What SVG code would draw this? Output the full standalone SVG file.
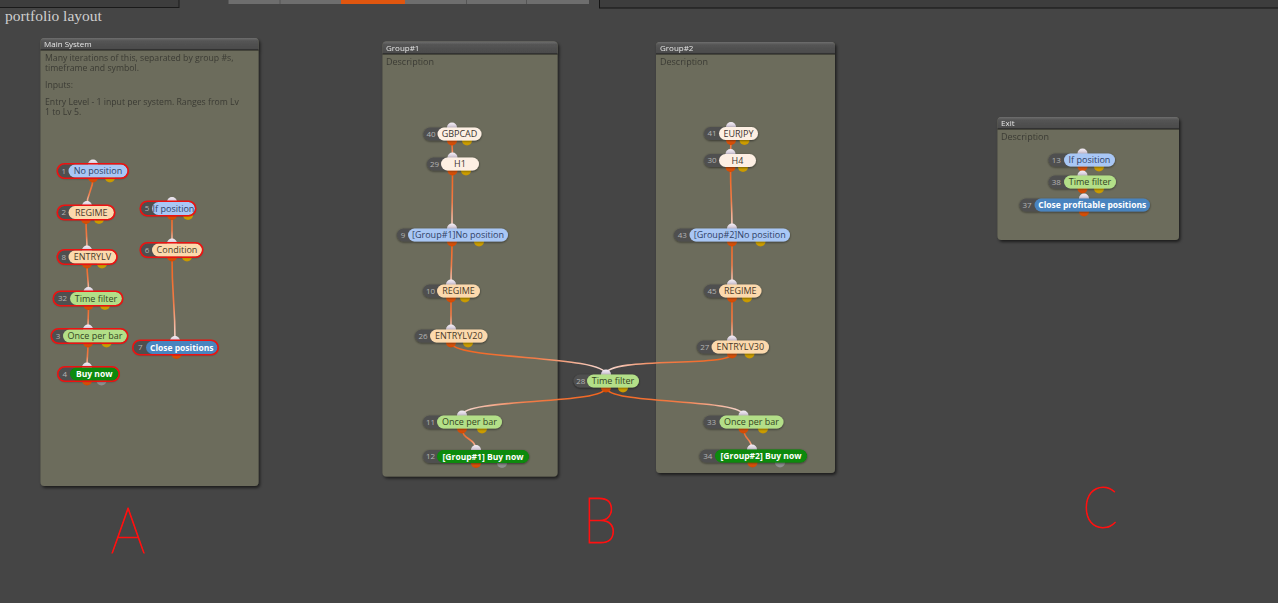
<svg xmlns="http://www.w3.org/2000/svg" width="1278" height="603" viewBox="0 0 1278 603">
<defs>
<style>
.ptitle{font-family:"Open Sans","Liberation Sans",sans-serif;font-size:8px;fill:#e6e6e6}
.desc{font-family:"Open Sans","Liberation Sans",sans-serif;font-size:9px;fill:#3b3b35}
.mdesc{font-family:"Open Sans","Liberation Sans",sans-serif;font-size:8.7px;fill:#3b3b35}
.lbl{font-family:"Open Sans","Liberation Sans",sans-serif;font-size:9px;text-anchor:middle}
.lblb{font-family:"Open Sans","Liberation Sans",sans-serif;font-size:8.5px;font-weight:bold;text-anchor:middle;fill:#ffffff}
.num{font-family:"Open Sans","Liberation Sans",sans-serif;font-size:8px;text-anchor:middle;fill:#b4b4b4}
.panel{fill:#6c6c5b}
.phdr{fill:url(#hdr)}
.pline{stroke:#1c1c1c;stroke-width:1}
.idp{fill:#4f4f4f}
.blue{fill:#a9c7f5}.tblue{fill:#2f3f66}
.peach{fill:#fcd9ad}.tpeach{fill:#4a3a28}
.green{fill:#b3df88}.tgreen{fill:#34451f}
.cream{fill:#fdefe3}.tcream{fill:#3a3330}
.dgreen{fill:#088a08}
.dblue{fill:#4a84bf}
.inp{fill:url(#gIn)}
.outo{fill:url(#gOr)}
.outy{fill:url(#gYe)}
.outg{fill:#8e8e8e}
.sel{fill:none;stroke:#ee1111;stroke-width:1.6}
.conn{fill:none;stroke-width:1.6}
.hand{font-family:Lato,"Noto Sans",sans-serif;font-weight:100;fill:#ff1010;stroke:#ff1010;stroke-width:1}
</style>
<linearGradient id="hdr" x1="0" y1="0" x2="0" y2="1">
<stop offset="0" stop-color="#6e6e6e"/><stop offset="0.25" stop-color="#545454"/><stop offset="1" stop-color="#4a4a4a"/>
</linearGradient>
<linearGradient id="gIn" x1="0" y1="0" x2="0" y2="1">
<stop offset="0" stop-color="#f4eef6"/><stop offset="1" stop-color="#a596ae"/>
</linearGradient>
<linearGradient id="gOr" x1="0" y1="0" x2="0" y2="1">
<stop offset="0" stop-color="#ff7624"/><stop offset="1" stop-color="#cf4600"/>
</linearGradient>
<linearGradient id="gYe" x1="0" y1="0" x2="0" y2="1">
<stop offset="0" stop-color="#f5c800"/><stop offset="1" stop-color="#c49400"/>
</linearGradient>
<linearGradient id="cg">
<stop offset="0" stop-color="#f3631a"/><stop offset="0.55" stop-color="#f17c48"/><stop offset="1" stop-color="#f7dcd6"/>
</linearGradient>
<linearGradient id="g1" href="#cg" gradientUnits="userSpaceOnUse" x1="93" y1="177.5" x2="87" y2="206"/>
<linearGradient id="g2" href="#cg" gradientUnits="userSpaceOnUse" x1="86" y1="219" x2="87" y2="250.5"/>
<linearGradient id="g3" href="#cg" gradientUnits="userSpaceOnUse" x1="87" y1="263.5" x2="88.5" y2="292"/>
<linearGradient id="g4" href="#cg" gradientUnits="userSpaceOnUse" x1="88.5" y1="305" x2="88" y2="329.5"/>
<linearGradient id="g5" href="#cg" gradientUnits="userSpaceOnUse" x1="88" y1="342.5" x2="87" y2="367.5"/>
<linearGradient id="g6" href="#cg" gradientUnits="userSpaceOnUse" x1="172" y1="215" x2="172" y2="243.5"/>
<linearGradient id="g7" href="#cg" gradientUnits="userSpaceOnUse" x1="172" y1="256.5" x2="175" y2="341"/>
<linearGradient id="g8" href="#cg" gradientUnits="userSpaceOnUse" x1="452" y1="140.5" x2="452.5" y2="157.5"/>
<linearGradient id="g9" href="#cg" gradientUnits="userSpaceOnUse" x1="452.5" y1="170.5" x2="452" y2="228.5"/>
<linearGradient id="g10" href="#cg" gradientUnits="userSpaceOnUse" x1="452" y1="241.5" x2="451" y2="284.5"/>
<linearGradient id="g11" href="#cg" gradientUnits="userSpaceOnUse" x1="451" y1="297.5" x2="451" y2="329.5"/>
<linearGradient id="g12" href="#cg" gradientUnits="userSpaceOnUse" x1="451" y1="342.5" x2="606" y2="374.5"/>
<linearGradient id="g13" href="#cg" gradientUnits="userSpaceOnUse" x1="732" y1="353.5" x2="606" y2="374.5"/>
<linearGradient id="g14" href="#cg" gradientUnits="userSpaceOnUse" x1="606" y1="387.5" x2="462" y2="415.5"/>
<linearGradient id="g15" href="#cg" gradientUnits="userSpaceOnUse" x1="606" y1="387.5" x2="743.5" y2="415.5"/>
<linearGradient id="g16" href="#cg" gradientUnits="userSpaceOnUse" x1="462" y1="428.5" x2="476" y2="450"/>
<linearGradient id="g17" href="#cg" gradientUnits="userSpaceOnUse" x1="743.5" y1="428.5" x2="752" y2="449.5"/>
<linearGradient id="g18" href="#cg" gradientUnits="userSpaceOnUse" x1="731" y1="140" x2="730.5" y2="154"/>
<linearGradient id="g19" href="#cg" gradientUnits="userSpaceOnUse" x1="730.5" y1="167" x2="732" y2="228.5"/>
<linearGradient id="g20" href="#cg" gradientUnits="userSpaceOnUse" x1="732" y1="241.5" x2="732" y2="284.5"/>
<linearGradient id="g21" href="#cg" gradientUnits="userSpaceOnUse" x1="732" y1="297.5" x2="732" y2="340.5"/>
<filter id="psh" x="-5%" y="-5%" width="112%" height="112%">
<feDropShadow dx="1.5" dy="2" stdDeviation="1.5" flood-color="#000" flood-opacity="0.6"/>
</filter>
<filter id="ns" x="-10%" y="-40%" width="120%" height="180%">
<feDropShadow dx="0" dy="0.8" stdDeviation="0.9" flood-color="#000" flood-opacity="0.55"/>
</filter>
</defs>

<rect x="0" y="0" width="1278" height="603" fill="#454545"/>

<g id="toolbar">
<rect x="-1" y="-1" width="180" height="8.5" fill="#3d3d3d" stroke="#1a1a1a"/>
<rect x="228.5" y="-1" width="360.5" height="5" fill="#6e6e6e"/>
<rect x="341" y="-1" width="64" height="5" fill="#e0560f"/>
<line x1="280" y1="-1" x2="280" y2="4" stroke="#555"/>
<line x1="466.5" y1="-1" x2="466.5" y2="4" stroke="#555"/>
<line x1="526.5" y1="-1" x2="526.5" y2="4" stroke="#555"/>
<rect x="599.5" y="-1" width="690" height="9" fill="#3d3d3d" stroke="#141414"/>
</g>

<text x="5" y="21" font-family="'Liberation Serif','Times New Roman',serif" font-size="15.5" fill="#cfcfcf">portfolio layout</text>

<g id="panel-main" filter="url(#psh)">
<rect class="panel" x="40.5" y="38" width="218" height="448" rx="4"/>
<path class="phdr" d="M40.5 50 V42 a4 4 0 0 1 4 -4 H254.5 a4 4 0 0 1 4 4 V50 Z"/>
<line class="pline" x1="40.5" y1="50" x2="258.5" y2="50"/>
<text class="ptitle" x="44" y="47.3">Main System</text>
<text class="mdesc" x="45" y="60.8">Many iterations of this, separated by group #s,</text>
<text class="mdesc" x="45" y="70.5">timeframe and symbol.</text>
<text class="mdesc" x="45" y="88">Inputs:</text>
<text class="mdesc" x="45" y="104.8">Entry Level - 1 input per system. Ranges from Lv</text>
<text class="mdesc" x="45" y="114.5">1 to Lv 5.</text>
</g>

<g id="panel-group1" filter="url(#psh)">
<rect class="panel" x="382.5" y="41.5" width="175" height="435" rx="4"/>
<path class="phdr" d="M382.5 54 V45.5 a4 4 0 0 1 4 -4 H553.5 a4 4 0 0 1 4 4 V54 Z"/>
<line class="pline" x1="382.5" y1="54" x2="557.5" y2="54"/>
<text class="ptitle" x="386" y="51">Group#1</text>
<text class="desc" x="386" y="65">Description</text>
</g>

<g id="panel-group2" filter="url(#psh)">
<rect class="panel" x="656" y="42" width="179" height="431" rx="4"/>
<path class="phdr" d="M656 54 V46 a4 4 0 0 1 4 -4 H831 a4 4 0 0 1 4 4 V54 Z"/>
<line class="pline" x1="656" y1="54" x2="835" y2="54"/>
<text class="ptitle" x="660" y="51">Group#2</text>
<text class="desc" x="660" y="65">Description</text>
</g>

<g id="panel-exit" filter="url(#psh)">
<rect class="panel" x="997.5" y="117" width="181.5" height="123" rx="4"/>
<path class="phdr" d="M997.5 129 V121 a4 4 0 0 1 4 -4 H1175 a4 4 0 0 1 4 4 V129 Z"/>
<line class="pline" x1="997.5" y1="129" x2="1179" y2="129"/>
<text class="ptitle" x="1001" y="126.3">Exit</text>
<text class="desc" x="1001" y="140">Description</text>
</g>

<g id="connectors">
<path class="conn" stroke="url(#g1)" d="M93 177.5 C93 192 87 191 87 206"/>
<path class="conn" stroke="url(#g2)" d="M86 219 C86 235 87 235 87 250.5"/>
<path class="conn" stroke="url(#g3)" d="M87 263.5 C87 278 88.5 278 88.5 292"/>
<path class="conn" stroke="url(#g4)" d="M88.5 305 C88.5 317 88 317 88 329.5"/>
<path class="conn" stroke="url(#g5)" d="M88 342.5 C88 355 87 355 87 367.5"/>
<path class="conn" stroke="url(#g6)" d="M172 215 C172 229 172 229 172 243.5"/>
<path class="conn" stroke="url(#g7)" d="M172 256.5 C172 300 175 300 175 341"/>
<path class="conn" stroke="url(#g8)" d="M452 140.5 C452 149 452.5 149 452.5 157.5"/>
<path class="conn" stroke="url(#g9)" d="M452.5 170.5 C452.5 200 452 200 452 228.5"/>
<path class="conn" stroke="url(#g10)" d="M452 241.5 C452 263 451 263 451 284.5"/>
<path class="conn" stroke="url(#g11)" d="M451 297.5 C451 313 451 313 451 329.5"/>
<path class="conn" stroke="url(#g12)" d="M451 342.5 C451 360 606 355 606 374.5"/>
<path class="conn" stroke="url(#g13)" d="M732 353.5 C732 368 606 356 606 374.5"/>
<path class="conn" stroke="url(#g14)" d="M606 387.5 C606 405 462 398 462 415.5"/>
<path class="conn" stroke="url(#g15)" d="M606 387.5 C606 405 743.5 398 743.5 415.5"/>
<path class="conn" stroke="url(#g16)" d="M462 428.5 C462 440 476 438 476 450"/>
<path class="conn" stroke="url(#g17)" d="M743.5 428.5 C743.5 440 752 438 752 449.5"/>
<path class="conn" stroke="url(#g18)" d="M731 140 C731 147 730.5 147 730.5 154"/>
<path class="conn" stroke="url(#g19)" d="M730.5 167 C730.5 198 732 198 732 228.5"/>
<path class="conn" stroke="url(#g20)" d="M732 241.5 C732 263 732 263 732 284.5"/>
<path class="conn" stroke="url(#g21)" d="M732 297.5 C732 319 732 319 732 340.5"/>
</g>

<!-- Main System nodes -->
<g id="n1">
<circle class="inp" cx="93" cy="164.5" r="5"/><circle class="outo" cx="93" cy="177.5" r="5"/><circle class="outy" cx="110" cy="177.5" r="5"/>
<g filter="url(#ns)"><rect class="idp" x="58" y="164.5" width="20.5" height="13" rx="6.5"/><rect class="blue" x="68.5" y="164.5" width="59" height="13" rx="6.5"/></g>
<text class="num" x="63.7" y="173.8">1</text><text class="lbl tblue" x="98" y="174.2">No position</text>
<rect class="sel" x="57.25" y="163.75" width="71" height="14.5" rx="7.25"/>
</g>
<g id="n2">
<circle class="inp" cx="87" cy="206" r="5"/><circle class="outo" cx="86" cy="219" r="5"/><circle class="outy" cx="99" cy="219" r="5"/>
<g filter="url(#ns)"><rect class="idp" x="58" y="206" width="20.5" height="13" rx="6.5"/><rect class="peach" x="68.5" y="206" width="45.5" height="13" rx="6.5"/></g>
<text class="num" x="63.7" y="215.3">2</text><text class="lbl tpeach" x="91.25" y="215.7">REGIME</text>
<rect class="sel" x="57.25" y="205.25" width="57.5" height="14.5" rx="7.25"/>
</g>
<g id="n8">
<circle class="inp" cx="87" cy="250.5" r="5"/><circle class="outo" cx="87" cy="263.5" r="5"/><circle class="outy" cx="102" cy="263.5" r="5"/>
<g filter="url(#ns)"><rect class="idp" x="58" y="250.5" width="20.5" height="13" rx="6.5"/><rect class="peach" x="68.5" y="250.5" width="48" height="13" rx="6.5"/></g>
<text class="num" x="63.7" y="259.8">8</text><text class="lbl tpeach" x="92.5" y="260.2">ENTRYLV</text>
<rect class="sel" x="57.25" y="249.75" width="59.75" height="14.5" rx="7.25"/>
</g>
<g id="n32">
<circle class="inp" cx="88.5" cy="292" r="5"/><circle class="outo" cx="88.5" cy="305" r="5"/><circle class="outy" cx="105" cy="305" r="5"/>
<g filter="url(#ns)"><rect class="idp" x="54" y="292" width="26" height="13" rx="6.5"/><rect class="green" x="70" y="292" width="52" height="13" rx="6.5"/></g>
<text class="num" x="62.5" y="301.3">32</text><text class="lbl tgreen" x="96" y="301.7">Time filter</text>
<rect class="sel" x="53.25" y="291.25" width="69.5" height="14.5" rx="7.25"/>
</g>
<g id="n3">
<circle class="inp" cx="88" cy="329.5" r="5"/><circle class="outo" cx="88" cy="342.5" r="5"/><circle class="outy" cx="106.5" cy="342.5" r="5"/>
<g filter="url(#ns)"><rect class="idp" x="52" y="329.5" width="21" height="13" rx="6.5"/><rect class="green" x="63" y="329.5" width="64" height="13" rx="6.5"/></g>
<text class="num" x="58" y="338.8">3</text><text class="lbl tgreen" x="95" y="339.2">Once per bar</text>
<rect class="sel" x="51.25" y="328.75" width="76.5" height="14.5" rx="7.25"/>
</g>
<g id="n4">
<circle class="inp" cx="87" cy="367.5" r="5"/><circle class="outo" cx="87" cy="380.5" r="5"/><circle class="outg" cx="101.5" cy="380.5" r="5"/>
<g filter="url(#ns)"><rect class="idp" x="58.5" y="367.5" width="21.5" height="13" rx="6.5"/><rect class="dgreen" x="70" y="367.5" width="48.5" height="13" rx="6.5"/></g>
<text class="num" x="64.7" y="376.8">4</text><text class="lblb" x="94.25" y="377">Buy now</text>
<rect class="sel" x="57.75" y="366.75" width="61.5" height="14.5" rx="7.25"/>
</g>
<g id="n5">
<circle class="inp" cx="172" cy="202" r="5"/><circle class="outo" cx="172" cy="215" r="5"/><circle class="outy" cx="188" cy="215" r="5"/>
<g filter="url(#ns)"><rect class="idp" x="141" y="202" width="21" height="13" rx="6.5"/><rect class="blue" x="152" y="202" width="43" height="13" rx="6.5"/></g>
<text class="num" x="147" y="211.3">5</text><text class="lbl tblue" x="173.5" y="211.7">If position</text>
<rect class="sel" x="140.25" y="201.25" width="55.5" height="14.5" rx="7.25"/>
</g>
<g id="n6">
<circle class="inp" cx="172" cy="243.5" r="5"/><circle class="outo" cx="172" cy="256.5" r="5"/><circle class="outy" cx="187" cy="256.5" r="5"/>
<g filter="url(#ns)"><rect class="idp" x="141" y="243.5" width="21" height="13" rx="6.5"/><rect class="peach" x="152" y="243.5" width="50" height="13" rx="6.5"/></g>
<text class="num" x="147" y="252.8">6</text><text class="lbl tpeach" x="177" y="253.2">Condition</text>
<rect class="sel" x="140.25" y="242.75" width="62.5" height="14.5" rx="7.25"/>
</g>
<g id="n7">
<circle class="inp" cx="175" cy="341" r="5"/><circle class="outo" cx="176.5" cy="354" r="5"/>
<g filter="url(#ns)"><rect class="idp" x="133.5" y="341" width="22.5" height="13" rx="6.5"/><rect class="dblue" x="146" y="341" width="71.5" height="13" rx="6.5"/></g>
<text class="num" x="140.2" y="350.3">7</text><text class="lblb" x="181.75" y="350.5">Close positions</text>
<rect class="sel" x="132.75" y="340.25" width="85.5" height="14.5" rx="7.25"/>
</g>

<!-- Group#1 nodes -->
<g id="n40">
<circle class="inp" cx="452" cy="127.5" r="5"/><circle class="outo" cx="452" cy="140.5" r="5"/><circle class="outy" cx="467" cy="140.5" r="5"/>
<g filter="url(#ns)"><rect class="idp" x="423.5" y="127.5" width="24" height="13" rx="6.5"/><rect class="cream" x="437.5" y="127.5" width="44" height="13" rx="6.5"/></g>
<text class="num" x="431" y="136.8">40</text><text class="lbl tcream" x="459.5" y="137.2">GBPCAD</text>
</g>
<g id="n29">
<circle class="inp" cx="452.5" cy="157.5" r="5"/><circle class="outo" cx="452.5" cy="170.5" r="5"/><circle class="outy" cx="466" cy="170.5" r="5"/>
<g filter="url(#ns)"><rect class="idp" x="427" y="157.5" width="24" height="13" rx="6.5"/><rect class="cream" x="441" y="157.5" width="38" height="13" rx="6.5"/></g>
<text class="num" x="434.5" y="166.8">29</text><text class="lbl tcream" x="460" y="167.2">H1</text>
</g>
<g id="n9">
<circle class="inp" cx="452" cy="228.5" r="5"/><circle class="outo" cx="452" cy="241.5" r="5"/><circle class="outy" cx="479" cy="241.5" r="5"/>
<g filter="url(#ns)"><rect class="idp" x="397" y="228.5" width="21" height="13" rx="6.5"/><rect class="blue" x="408" y="228.5" width="100" height="13" rx="6.5"/></g>
<text class="num" x="403" y="237.8">9</text><text class="lbl tblue" x="458" y="238.2">[Group#1]No position</text>
</g>
<g id="n10">
<circle class="inp" cx="451" cy="284.5" r="5"/><circle class="outo" cx="451" cy="297.5" r="5"/><circle class="outy" cx="465" cy="297.5" r="5"/>
<g filter="url(#ns)"><rect class="idp" x="423" y="284.5" width="24" height="13" rx="6.5"/><rect class="peach" x="437" y="284.5" width="43" height="13" rx="6.5"/></g>
<text class="num" x="430.5" y="293.8">10</text><text class="lbl tpeach" x="458.5" y="294.2">REGIME</text>
</g>
<g id="n26">
<circle class="inp" cx="451" cy="329.5" r="5"/><circle class="outo" cx="451" cy="342.5" r="5"/><circle class="outy" cx="468" cy="342.5" r="5"/>
<g filter="url(#ns)"><rect class="idp" x="415" y="329.5" width="25" height="13" rx="6.5"/><rect class="peach" x="430" y="329.5" width="57.5" height="13" rx="6.5"/></g>
<text class="num" x="423" y="338.8">26</text><text class="lbl tpeach" x="458.75" y="339.2">ENTRYLV20</text>
</g>
<g id="n28">
<circle class="inp" cx="606" cy="374.5" r="5"/><circle class="outo" cx="606" cy="387.5" r="5"/><circle class="outy" cx="623" cy="387.5" r="5"/>
<g filter="url(#ns)"><rect class="idp" x="573.5" y="374.5" width="23.5" height="13" rx="6.5"/><rect class="green" x="587" y="374.5" width="52" height="13" rx="6.5"/></g>
<text class="num" x="580.75" y="383.8">28</text><text class="lbl tgreen" x="613" y="384.2">Time filter</text>
</g>
<g id="n11">
<circle class="inp" cx="462" cy="415.5" r="5"/><circle class="outo" cx="462" cy="428.5" r="5"/><circle class="outy" cx="482" cy="428.5" r="5"/>
<g filter="url(#ns)"><rect class="idp" x="423" y="415.5" width="24" height="13" rx="6.5"/><rect class="green" x="437" y="415.5" width="65" height="13" rx="6.5"/></g>
<text class="num" x="430.5" y="424.8">11</text><text class="lbl tgreen" x="469.5" y="425.2">Once per bar</text>
</g>
<g id="n12">
<circle class="inp" cx="476" cy="450" r="5"/><circle class="outo" cx="476" cy="463" r="5"/><circle class="outg" cx="502" cy="463" r="5"/>
<g filter="url(#ns)"><rect class="idp" x="423" y="450" width="24" height="13" rx="6.5"/><rect class="dgreen" x="437" y="450" width="92" height="13" rx="6.5"/></g>
<text class="num" x="430.5" y="459.3">12</text><text class="lblb" x="483" y="459.5">[Group#1] Buy now</text>
</g>

<!-- Group#2 nodes -->
<g id="n41">
<circle class="inp" cx="731" cy="127" r="5"/><circle class="outo" cx="731" cy="140" r="5"/><circle class="outy" cx="744.5" cy="140" r="5"/>
<g filter="url(#ns)"><rect class="idp" x="704" y="127" width="25" height="13" rx="6.5"/><rect class="cream" x="719" y="127" width="39" height="13" rx="6.5"/></g>
<text class="num" x="712" y="136.3">41</text><text class="lbl tcream" x="738.5" y="136.7">EURJPY</text>
</g>
<g id="n30">
<circle class="inp" cx="730.5" cy="154" r="5"/><circle class="outo" cx="730.5" cy="167" r="5"/><circle class="outy" cx="743" cy="167" r="5"/>
<g filter="url(#ns)"><rect class="idp" x="704" y="154" width="25" height="13" rx="6.5"/><rect class="cream" x="719" y="154" width="37" height="13" rx="6.5"/></g>
<text class="num" x="712" y="163.3">30</text><text class="lbl tcream" x="737.5" y="163.7">H4</text>
</g>
<g id="n43">
<circle class="inp" cx="732" cy="228.5" r="5"/><circle class="outo" cx="732" cy="241.5" r="5"/><circle class="outy" cx="760.5" cy="241.5" r="5"/>
<g filter="url(#ns)"><rect class="idp" x="674" y="228.5" width="25.5" height="13" rx="6.5"/><rect class="blue" x="689.5" y="228.5" width="100.5" height="13" rx="6.5"/></g>
<text class="num" x="682.25" y="237.8">43</text><text class="lbl tblue" x="739.75" y="238.2">[Group#2]No position</text>
</g>
<g id="n45">
<circle class="inp" cx="732" cy="284.5" r="5"/><circle class="outo" cx="732" cy="297.5" r="5"/><circle class="outy" cx="747" cy="297.5" r="5"/>
<g filter="url(#ns)"><rect class="idp" x="704" y="284.5" width="25" height="13" rx="6.5"/><rect class="peach" x="719" y="284.5" width="42.5" height="13" rx="6.5"/></g>
<text class="num" x="712" y="293.8">45</text><text class="lbl tpeach" x="740.25" y="294.2">REGIME</text>
</g>
<g id="n27">
<circle class="inp" cx="732" cy="340.5" r="5"/><circle class="outo" cx="732" cy="353.5" r="5"/><circle class="outy" cx="749.5" cy="353.5" r="5"/>
<g filter="url(#ns)"><rect class="idp" x="697" y="340.5" width="24.5" height="13" rx="6.5"/><rect class="peach" x="711.5" y="340.5" width="57.5" height="13" rx="6.5"/></g>
<text class="num" x="704.75" y="349.8">27</text><text class="lbl tpeach" x="740.25" y="350.2">ENTRYLV30</text>
</g>
<g id="n33">
<circle class="inp" cx="743.5" cy="415.5" r="5"/><circle class="outo" cx="743.5" cy="428.5" r="5"/><circle class="outy" cx="763" cy="428.5" r="5"/>
<g filter="url(#ns)"><rect class="idp" x="703.5" y="415.5" width="26" height="13" rx="6.5"/><rect class="green" x="719.5" y="415.5" width="64" height="13" rx="6.5"/></g>
<text class="num" x="711.5" y="424.8">33</text><text class="lbl tgreen" x="751.5" y="425.2">Once per bar</text>
</g>
<g id="n34">
<circle class="inp" cx="752" cy="449.5" r="5"/><circle class="outo" cx="752.5" cy="462.5" r="5"/><circle class="outg" cx="780" cy="462.5" r="5"/>
<g filter="url(#ns)"><rect class="idp" x="699.5" y="449.5" width="25.5" height="13" rx="6.5"/><rect class="dgreen" x="715" y="449.5" width="92" height="13" rx="6.5"/></g>
<text class="num" x="707.75" y="458.8">34</text><text class="lblb" x="761" y="459">[Group#2] Buy now</text>
</g>

<!-- Exit nodes -->
<g id="n13">
<circle class="inp" cx="1082.5" cy="153.5" r="5"/><circle class="outo" cx="1082.5" cy="166.5" r="5"/><circle class="outy" cx="1099" cy="166.5" r="5"/>
<g filter="url(#ns)"><rect class="idp" x="1048.5" y="153.5" width="25.5" height="13" rx="6.5"/><rect class="blue" x="1064" y="153.5" width="51" height="13" rx="6.5"/></g>
<text class="num" x="1056.25" y="162.8">13</text><text class="lbl tblue" x="1089.5" y="163.2">If position</text>
</g>
<g id="n38">
<circle class="inp" cx="1082.5" cy="175.5" r="5"/><circle class="outo" cx="1082.5" cy="188.5" r="5"/><circle class="outy" cx="1099" cy="188.5" r="5"/>
<g filter="url(#ns)"><rect class="idp" x="1048.5" y="175.5" width="25.5" height="13" rx="6.5"/><rect class="green" x="1064" y="175.5" width="52" height="13" rx="6.5"/></g>
<text class="num" x="1056.25" y="184.8">38</text><text class="lbl tgreen" x="1090" y="185.2">Time filter</text>
</g>
<g id="n37">
<circle class="inp" cx="1084" cy="198.5" r="5"/><circle class="outo" cx="1084" cy="211.5" r="5"/>
<g filter="url(#ns)"><rect class="idp" x="1019.5" y="198.5" width="25" height="13" rx="6.5"/><rect class="dblue" x="1034.5" y="198.5" width="115.5" height="13" rx="6.5"/></g>
<text class="num" x="1027" y="207.8">37</text><text class="lblb" x="1092.25" y="208">Close profitable positions</text>
</g>

<g id="annotations">
<text class="hand" transform="translate(128 552.5) scale(0.85 1)" x="0" y="0" font-size="64" text-anchor="middle">A</text>
<text class="hand" transform="translate(600 543) scale(0.88 1)" x="0" y="0" font-size="64" text-anchor="middle">B</text>
<text class="hand" transform="translate(1100 528) scale(0.9 1)" x="0" y="0" font-size="57" text-anchor="middle">C</text>
</g>
</svg>
